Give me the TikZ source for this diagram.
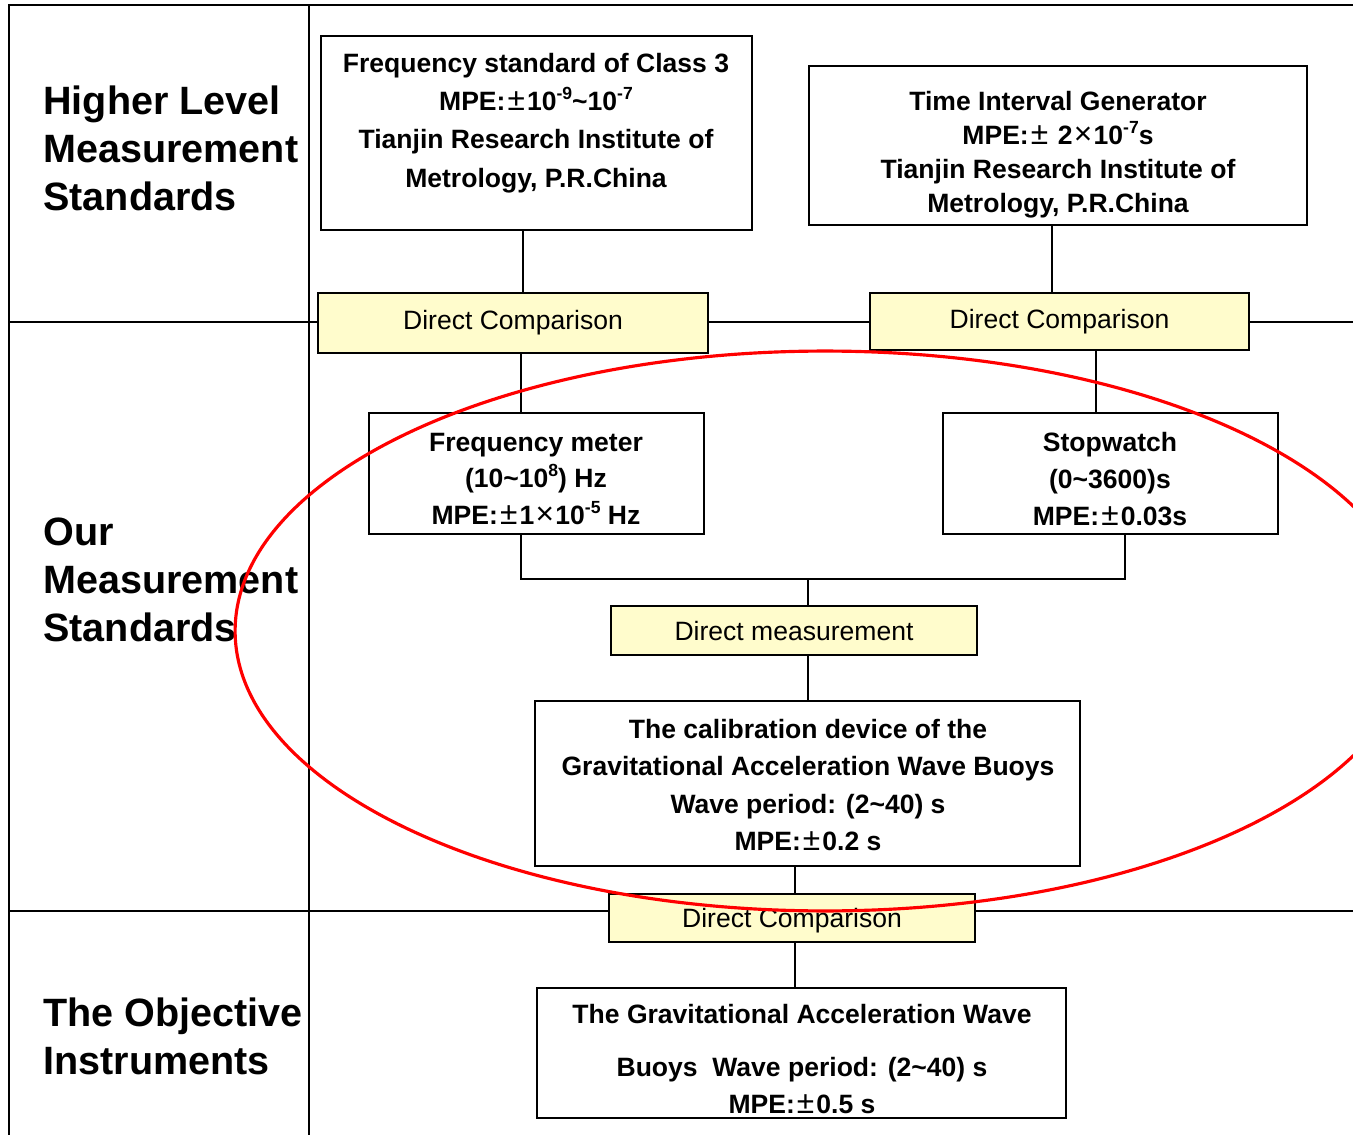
\documentclass[tikz,border=0pt]{standalone}
\usepackage{fontspec}
\setmainfont{Liberation Sans}
\newcommand{\pmg}{\hspace{0.08em}{\mdseries\fontsize{18}{18}\selectfont ±}\hspace{0.08em}}
\newcommand{\tmg}{\hspace{0.05em}{\mdseries\fontsize{18}{18}\selectfont ×}\hspace{0.05em}}
\newcommand{\tld}{\textasciitilde}
\newcommand{\sups}[1]{\raisebox{0.42em}{\fontsize{10}{10}\selectfont #1}}
\tikzset{
  stdbox/.style={draw, line width=1.1pt, fill=white, inner sep=0pt},
  cmpbox/.style={draw, line width=1.1pt, fill=yellow!20, inner sep=0pt, font=\fontsize{15.1}{18}\selectfont},
  boxtxt/.style={align=center, inner sep=0pt, font=\bfseries\fontsize{15.1}{21.4}\selectfont},
  rowlabel/.style={align=left, anchor=west, inner sep=0pt, font=\bfseries\fontsize{22.5}{27.3}\selectfont},
  link/.style={line width=1.1pt},
  frame/.style={line width=1.7pt}
}
\begin{document}
\begin{tikzpicture}[x=0.02cm, y=-0.02cm]
\useasboundingbox (0,0) rectangle (1353,1135);
\clip (0,0) rectangle (1353,1135);
% table lines
\draw[frame] (9,1135) -- (9,5) -- (1353,5);
\draw[line width=1.2pt] (309,5) -- (309,1135);
\draw[frame] (9,322) -- (1353,322);
\draw[frame] (9,911) -- (1353,911);

% row titles
\node[rowlabel] (higher) at (43,148) {Higher Level\\Measurement\\Standards};
\node[rowlabel] (ours) at (43,580) {Our\\Measurement\\Standards};
\node[rowlabel] (objective) at (43,1036) {The Objective\\Instruments};

% boxes
\node[stdbox, minimum width=8.62cm, minimum height=3.88cm] (fs) at (536.5,133) {};
\node[boxtxt, font=\bfseries\fontsize{15.1}{21.8}\selectfont] (fstxt) at (536,123)
  {Frequency standard of Class 3\\MPE:\pmg10\sups{-9}\tld10\sups{-7}\\Tianjin Research Institute of\\Metrology, P.R.China};
\node[stdbox, minimum width=9.96cm, minimum height=3.18cm] (tig) at (1058,145.5) {};
\node[boxtxt, font=\bfseries\fontsize{15.1}{19.4}\selectfont] (tigtxt) at (1058,155)
  {Time Interval Generator\\MPE:\pmg\ 2\tmg10\sups{-7}s\\Tianjin Research Institute of\\Metrology, P.R.China};

\node[cmpbox, minimum width=7.8cm, minimum height=1.2cm] (dca) at (513,323) {Direct Comparison};
\node[cmpbox, minimum width=7.58cm, minimum height=1.14cm] (dcb) at (1059.5,321.5) {Direct Comparison};

\node[stdbox, minimum width=6.7cm, minimum height=2.42cm] (fm) at (536.5,473.5) {};
\node[boxtxt, font=\bfseries\fontsize{15.1}{20.8}\selectfont] (fmtxt) at (536,479)
  {Frequency meter\\(10\tld10\sups{8}) Hz\\MPE:\pmg1\tmg10\sups{-5} Hz};
\node[stdbox, minimum width=6.7cm, minimum height=2.42cm] (sw) at (1110.5,473.5) {};
\node[boxtxt, font=\bfseries\fontsize{15.1}{20.8}\selectfont] (swtxt) at (1110,479)
  {Stopwatch\\(0\tld3600)s\\MPE:\pmg0.03s};

\coordinate (jn) at (808,579);
\node[cmpbox, minimum width=7.32cm, minimum height=0.98cm, text depth=0pt] (dm) at (794,630.5) {Direct measurement};

\node[stdbox, minimum width=10.9cm, minimum height=3.3cm] (cd) at (807.5,783.5) {};
\node[boxtxt, font=\bfseries\fontsize{15.1}{21.2}\selectfont] (cdtxt) at (808,785)
  {The calibration device of the\\Gravitational Acceleration Wave Buoys\\Wave period: (2\tld40) s\\MPE:\pmg0.2 s};

\node[cmpbox, minimum width=7.32cm, minimum height=0.96cm, text depth=0pt] (dcc) at (792,918) {Direct Comparison};

\node[stdbox, minimum width=10.58cm, minimum height=2.6cm] (oi) at (801.5,1053) {};
\node[boxtxt, font=\bfseries\fontsize{15.1}{21}\selectfont] (oitxt) at (802,1059)
  {The Gravitational Acceleration Wave\\[9pt]Buoys\ \ Wave period: (2\tld40) s\\MPE:\pmg0.5 s};

% connectors
\draw[link] ([xshift=-0.27cm]fs.south) -- ([xshift=-0.27cm]fs.south |- dca.north);
\draw[link] ([xshift=-0.12cm]tig.south) -- ([xshift=-0.12cm]tig.south |- dcb.north);
\draw[link] ([xshift=0.16cm]dca.south) -- ([xshift=0.16cm]dca.south |- fm.north);
\draw[link] ([xshift=0.73cm]dcb.south) -- ([xshift=0.73cm]dcb.south |- sw.north);
\draw[link] ([xshift=-0.31cm]fm.south) |- (jn) -| ([xshift=0.29cm]sw.south);
\draw[link] (jn) -- (jn |- dm.north);
\draw[link] (jn |- dm.south) -- (jn |- cd.north);
\draw[link] ([xshift=-0.25cm]cd.south) -- ([xshift=-0.25cm]cd.south |- dcc.north);
\draw[link] ([xshift=0.06cm]dcc.south) -- ([xshift=0.06cm]dcc.south |- oi.north);

% red ring
\draw[red, line width=1.8pt] (825,631) ellipse [x radius=11.8cm, y radius=5.6cm];
\end{tikzpicture}
\end{document}
